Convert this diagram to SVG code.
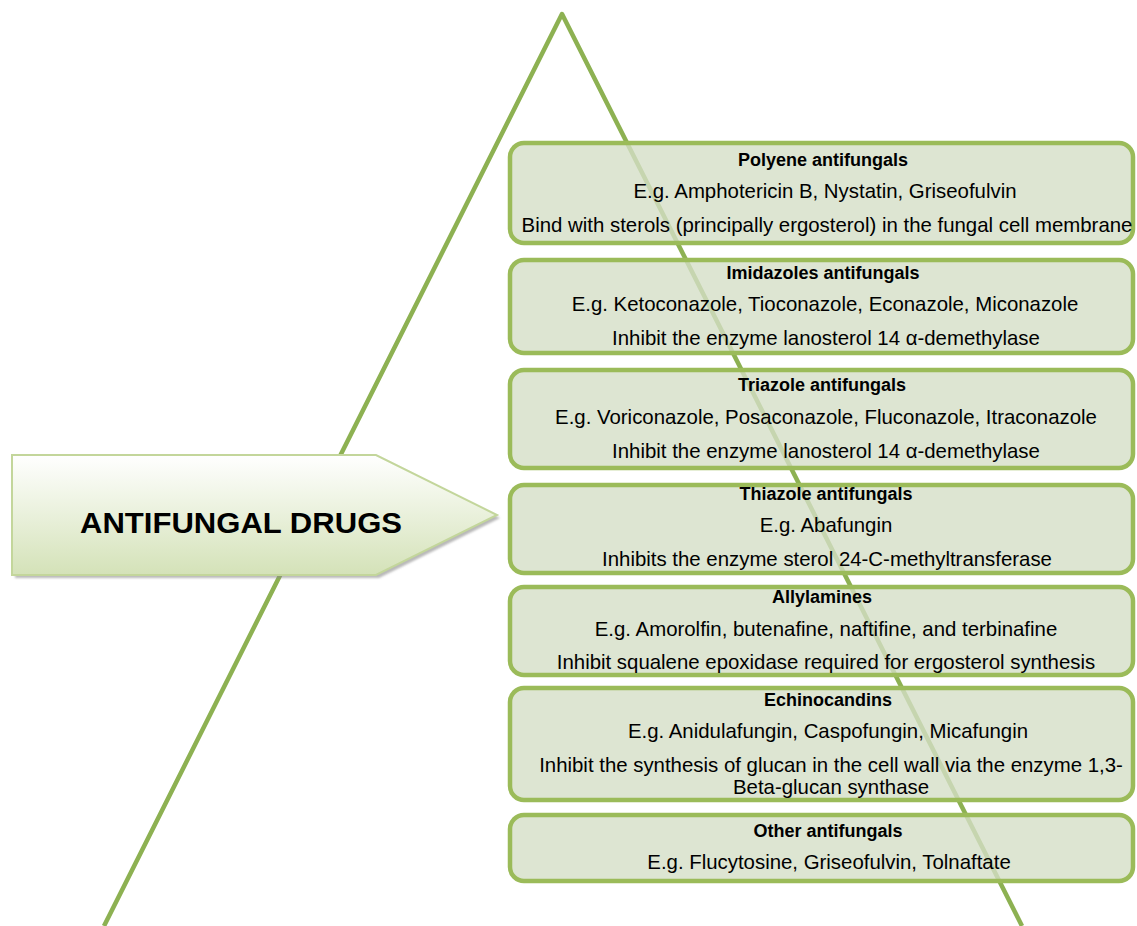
<svg xmlns="http://www.w3.org/2000/svg" width="1137" height="926" viewBox="0 0 1137 926">
<defs>
<linearGradient id="arrowGrad" x1="0" y1="0" x2="0" y2="1">
<stop offset="0" stop-color="#ffffff"/>
<stop offset="1" stop-color="#d4e2b8"/>
</linearGradient>
<filter id="blur" x="-5%" y="-5%" width="110%" height="110%"><feGaussianBlur stdDeviation="1.2"/></filter>
</defs>
<style>
.tri{fill:none;stroke:#8db152;stroke-width:4.5;stroke-linejoin:round;stroke-linecap:butt}
.box{fill:rgb(213,223,199);fill-opacity:0.8;stroke:#9bbb59;stroke-width:4.5}
.t{font-family:"Liberation Sans",Arial,sans-serif;font-size:20.4px;fill:#000;text-anchor:middle}
.b{font-weight:bold;font-size:18px}
.big{font-family:"Liberation Sans",Arial,sans-serif;font-size:29px;font-weight:bold;fill:#000;text-anchor:middle}
</style>
<rect width="1137" height="926" fill="#ffffff"/>
<g id="connectors">
<polyline class="tri" points="104,926 562,14 1022,926"/>
</g>
<g id="polyene">
<rect class="box" x="510" y="143" width="623" height="100" rx="14"/>
<text class="t b" x="823" y="166">Polyene antifungals</text>
<text class="t" x="825" y="198">E.g. Amphotericin B, Nystatin, Griseofulvin</text>
<text class="t" x="827" y="232">Bind with sterols (principally ergosterol) in the fungal cell membrane</text>
</g>
<g id="imidazoles">
<rect class="box" x="510" y="260" width="623" height="93" rx="14"/>
<text class="t b" x="823" y="279">Imidazoles antifungals</text>
<text class="t" x="825" y="311">E.g. Ketoconazole, Tioconazole, Econazole, Miconazole</text>
<text class="t" x="826" y="345">Inhibit the enzyme lanosterol 14 α-demethylase</text>
</g>
<g id="triazole">
<rect class="box" x="510" y="370" width="623" height="98" rx="14"/>
<text class="t b" x="822" y="391">Triazole antifungals</text>
<text class="t" x="826" y="424">E.g. Voriconazole, Posaconazole, Fluconazole, Itraconazole</text>
<text class="t" x="826" y="458">Inhibit the enzyme lanosterol 14 α-demethylase</text>
</g>
<g id="thiazole">
<rect class="box" x="510" y="485" width="623" height="88" rx="14"/>
<text class="t b" x="826" y="500">Thiazole antifungals</text>
<text class="t" x="826" y="532">E.g. Abafungin</text>
<text class="t" x="827" y="566">Inhibits the enzyme sterol 24-C-methyltransferase</text>
</g>
<g id="allylamines">
<rect class="box" x="510" y="587" width="623" height="88" rx="14"/>
<text class="t b" x="822" y="603">Allylamines</text>
<text class="t" x="826" y="636">E.g. Amorolfin, butenafine, naftifine, and terbinafine</text>
<text class="t" x="826" y="669">Inhibit squalene epoxidase required for ergosterol synthesis</text>
</g>
<g id="echinocandins">
<rect class="box" x="510" y="688" width="623" height="112" rx="14"/>
<text class="t b" x="828" y="706">Echinocandins</text>
<text class="t" x="828" y="738">E.g. Anidulafungin, Caspofungin, Micafungin</text>
<text class="t" x="831" y="772">Inhibit the synthesis of glucan in the cell wall via the enzyme 1,3-</text>
<text class="t" x="831" y="794">Beta-glucan synthase</text>
</g>
<g id="other">
<rect class="box" x="510" y="815" width="623" height="66" rx="14"/>
<text class="t b" x="828" y="837">Other antifungals</text>
<text class="t" x="829" y="869">E.g. Flucytosine, Griseofulvin, Tolnaftate</text>
</g>
<g id="antifungal-drugs">
<polygon points="15,458 379,458 500,518 379,578 15,578" fill="#8a8a8a" fill-opacity="0.6" filter="url(#blur)"/>
<polygon points="12,455 376,455 497,515 376,575 12,575" fill="url(#arrowGrad)" stroke="#c3d69b" stroke-width="2"/>
<text class="big" x="241" y="533" textLength="322" lengthAdjust="spacingAndGlyphs">ANTIFUNGAL DRUGS</text>
</g>
</svg>
